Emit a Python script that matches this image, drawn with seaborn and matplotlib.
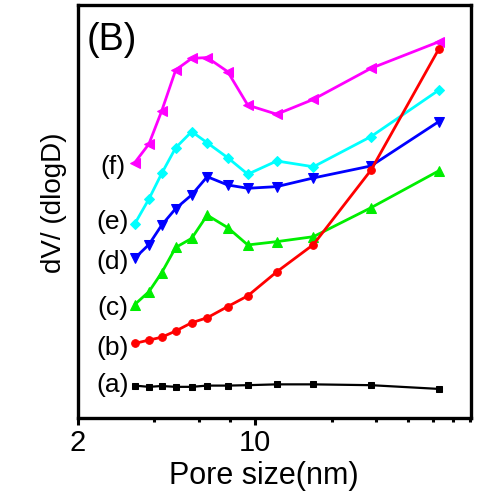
import matplotlib
matplotlib.use('Agg')
import matplotlib.pyplot as plt
import matplotlib.ticker as mticker
import seaborn as sns
import pandas as pd

# pore sizes (nm), shared by all curves
pore = [3.36, 3.82, 4.29, 4.87, 5.63, 6.48, 7.80, 9.36, 12.17, 16.97, 28.6, 52.8]

# dV/dlogD, arbitrary offset units
curve_a = [7.9, 7.6, 7.8, 7.6, 7.6, 7.9, 7.9, 8.0, 8.2, 8.2, 8.0, 7.1]
curve_b = [18.1, 18.9, 19.6, 21.1, 23.1, 24.3, 27.0, 29.6, 35.4, 42.0, 60.0, 89.2]
curve_c = [27.5, 30.6, 35.2, 41.3, 43.5, 49.1, 46.1, 41.9, 42.7, 43.9, 50.9, 59.8]
curve_d = [38.7, 42.0, 46.7, 50.7, 54.0, 58.4, 56.4, 55.6, 56.0, 58.1, 61.0, 71.7]
curve_e = [47.0, 53.0, 59.2, 65.4, 69.3, 66.6, 63.0, 59.0, 62.2, 60.8, 68.1, 79.3]
curve_f = [61.8, 66.3, 74.3, 84.2, 87.0, 87.2, 83.8, 75.7, 73.5, 77.1, 84.6, 91.0]

etiquetas = ['(a)', '(b)', '(c)', '(d)', '(e)', '(f)']
curvas = [curve_a, curve_b, curve_c, curve_d, curve_e, curve_f]
cores = ['black', '#ff0000', '#00ee00', '#0000ff', '#00ffff', '#ff00ff']
marcadores = ['s', 'o', '^', 'v', 'D', '<']
tamanhos = [4, 5.5, 6.5, 6.5, 5.5, 6.5]
# label positions (x in nm, y in same units)
pos_label = [(2.76, 8.0), (2.76, 16.9), (2.76, 26.6), (2.76, 37.8), (2.76, 47.5), (2.76, 60.8)]

sns.set_style('ticks')
plt.rcParams['font.family'] = ['Liberation Sans', 'DejaVu Sans']
plt.rcParams['text.color'] = 'black'
plt.rcParams['axes.labelcolor'] = 'black'
plt.rcParams['axes.edgecolor'] = 'black'
plt.rcParams['xtick.color'] = 'black'

fig = plt.figure(figsize=(4.95, 4.96), dpi=100)
ax = fig.add_axes([0.1566, 0.1567, 0.794, 0.834])

ordem = [5, 4, 3, 2, 0, 1]
for i in ordem:
    df = pd.DataFrame({'pore': pore, 'val': curvas[i]})
    sns.lineplot(data=df, x='pore', y='val', ax=ax, color=cores[i],
                 marker=marcadores[i], markersize=tamanhos[i],
                 markeredgecolor=cores[i], linewidth=2.0 if i else 1.6)

for lab, (px, py) in zip(etiquetas, pos_label):
    ax.text(px, py, lab, fontsize=19, ha='center', va='center')

ax.text(0.022, 0.915, '(B)', transform=ax.transAxes, fontsize=27,
        ha='left', va='center')

ax.set_xscale('log')
ax.set_xlim(2, 70.5)
ax.set_ylim(0, 100)
ax.xaxis.set_major_locator(mticker.FixedLocator([2, 10]))
ax.xaxis.set_major_formatter(mticker.FixedFormatter(['2', '10']))
ax.xaxis.set_minor_locator(mticker.FixedLocator([4, 6, 8, 20, 30, 40, 50, 60, 70]))
ax.xaxis.set_minor_formatter(mticker.NullFormatter())
ax.set_yticks([])

ax.tick_params(axis='x', which='major', direction='out', length=5, width=2.2,
               labelsize=21, pad=3)
ax.tick_params(axis='x', which='minor', direction='out', length=3, width=2.2)
for sp in ax.spines.values():
    sp.set_linewidth(2.4)
    sp.set_visible(True)

ax.set_xlabel('Pore size(nm)', fontsize=22)
ax.xaxis.set_label_coords(0.4746, -0.103)
ax.set_ylabel('dV/ (dlogD)', fontsize=20)
ax.yaxis.set_label_coords(-0.027, 0.5215)

plt.savefig('out.png', dpi=100)
